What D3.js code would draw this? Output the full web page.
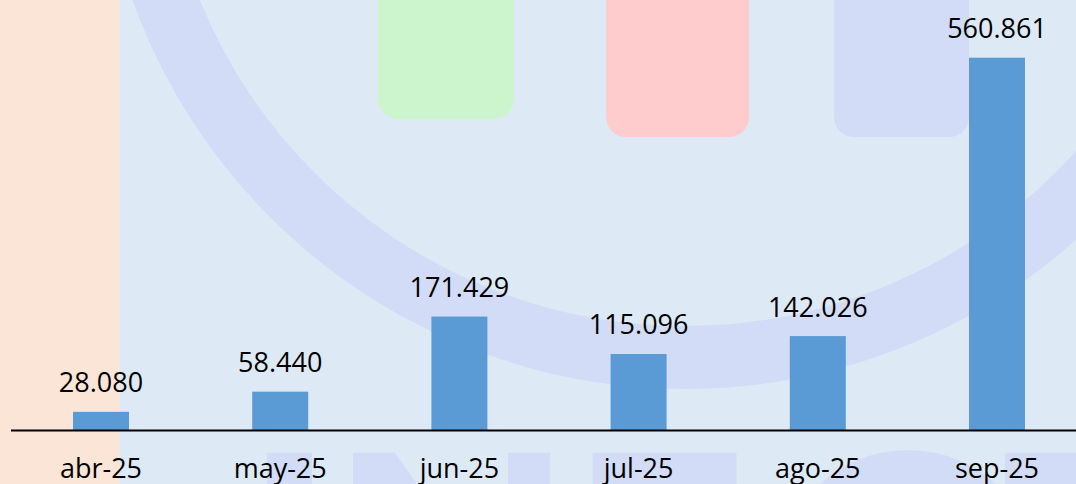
<!DOCTYPE html>
<html>
<head>
<meta charset="utf-8">
<script src="https://cdn.jsdelivr.net/npm/d3@7/dist/d3.min.js"></script>
<style>
  html, body { margin: 0; padding: 0; background: #ddeaf6; overflow: hidden; }
  svg { display: block; }
  text { font-family: "Open Sans", "Noto Sans", sans-serif; fill: #000; }
</style>
</head>
<body>
<svg id="chart" width="1076" height="484"></svg>
<script>
// ---- data ----
const months = ["abr-25", "may-25", "jun-25", "jul-25", "ago-25", "sep-25"];
const values = [28080, 58440, 171429, 115096, 142026, 560861];
const yDomain = [0, 600000];

// ---- setup ----
const W = 1076, H = 484;
const svg = d3.select("#chart");
const locale = d3.formatLocale({ decimal: ",", thousands: ".", grouping: [3], currency: ["", "€"] });
const fmt = locale.format(",d");

const x = d3.scaleBand().domain(months).range([11.4, 1086.6]).paddingInner(0.6875).paddingOuter(0.34375);
const baseY = 430.5;
const y = d3.scaleLinear().domain(yDomain).range([baseY, baseY - 600000 * 0.0006647]);

// ---- background decoration (watermark) ----
const bg = svg.append("g");
bg.append("rect").attr("x", 0).attr("y", 0).attr("width", W).attr("height", H).attr("fill", "#ddeaf6");
bg.append("rect").attr("x", 0).attr("y", 0).attr("width", 119.5).attr("height", H).attr("fill", "#fbe5d7");
const deco = "#d3dcf6";
bg.append("circle").attr("cx", 685).attr("cy", -198).attr("r", 555.5)
  .attr("fill", "none").attr("stroke", deco).attr("stroke-width", 63);
bg.append("rect").attr("x", 378).attr("y", -30).attr("width", 136).attr("height", 149).attr("rx", 20).attr("fill", "#ccf5cd");
bg.append("rect").attr("x", 606).attr("y", -30).attr("width", 143).attr("height", 167).attr("rx", 20).attr("fill", "#fecccc");
bg.append("rect").attr("x", 834).attr("y", -30).attr("width", 135).attr("height", 167).attr("rx", 20).attr("fill", deco);
// bottom watermark glyph fragments
bg.append("rect").attr("x", 267).attr("y", 452.7).attr("width", 45).attr("height", 40).attr("fill", deco);
bg.append("path").attr("d", "M353,452.7 L395,452.7 L417,484 L353,484 Z").attr("fill", deco);
bg.append("rect").attr("x", 508).attr("y", 452.7).attr("width", 42).attr("height", 40).attr("fill", deco);
bg.append("rect").attr("x", 592.5).attr("y", 452.7).attr("width", 144).attr("height", 40).attr("fill", deco);
bg.append("circle").attr("cx", 908).attr("cy", 581).attr("r", 131).attr("fill", deco);
bg.append("rect").attr("x", 1005).attr("y", 452.7).attr("width", 80).attr("height", 40).attr("fill", deco);

// ---- bars ----
const data = months.map((m, i) => ({ m, v: values[i] }));
svg.append("g").selectAll("rect").data(data).join("rect")
  .attr("x", d => x(d.m))
  .attr("y", d => y(d.v))
  .attr("width", x.bandwidth())
  .attr("height", d => baseY - y(d.v))
  .attr("fill", "#5b9bd5");

// ---- value labels ----
svg.append("g").selectAll("text").data(data).join("text")
  .attr("x", d => x(d.m) + x.bandwidth() / 2)
  .attr("y", d => y(d.v) - 19.5)
  .attr("text-anchor", "middle")
  .attr("font-size", 27)
  .text(d => fmt(d.v));

// ---- x axis ----
const xAxis = d3.axisBottom(x).tickSize(0).tickPadding(0);
const ax = svg.append("g").attr("transform", `translate(0,${baseY})`).call(xAxis);
ax.select(".domain").remove();
ax.append("line").attr("x1", 11).attr("x2", W).attr("y1", 0).attr("y2", 0)
  .attr("stroke", "#000").attr("stroke-width", 2);
ax.selectAll(".tick text")
  .attr("y", 47.5).attr("dy", null)
  .attr("font-size", 27)
  .attr("font-family", "'Open Sans', 'Noto Sans', sans-serif")
  .attr("fill", "#000");
</script>
</body>
</html>
